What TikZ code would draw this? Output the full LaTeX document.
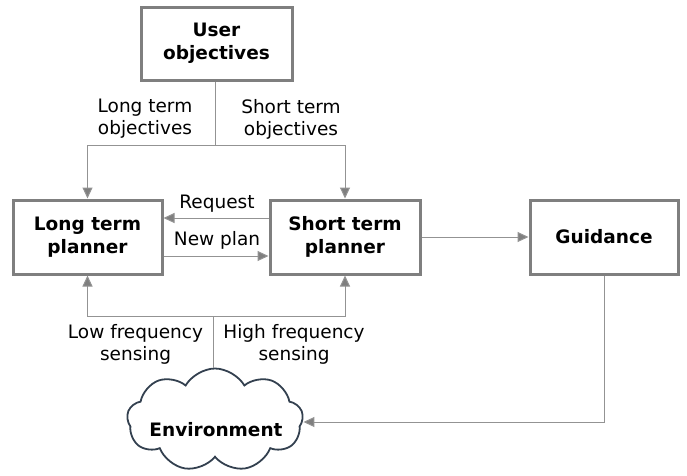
\documentclass[tikz,border=0pt]{standalone}
\usepackage{fontspec}
\setmainfont{DejaVu Sans}
\usetikzlibrary{shapes.symbols,arrows.meta}
\definecolor{boxgray}{HTML}{7F7F7F}
\definecolor{linegray}{HTML}{939393}
\definecolor{cloudline}{HTML}{33404F}
\begin{document}
\begin{tikzpicture}[x=1pt,y=-1pt,
  box/.style={draw=boxgray,line width=3pt,fill=white,inner sep=0pt,font=\fontsize{18.5}{23}\selectfont\bfseries,align=center},
  conn/.style={draw=linegray,line width=1pt},
  arr/.style={conn,-{Triangle[length=11pt,width=10pt,fill=boxgray]}},
  lbl/.style={font=\fontsize{18.5}{22}\selectfont,align=center,inner sep=0pt}]
\useasboundingbox (0,0) rectangle (687,475);
\node[box,minimum width=151pt,minimum height=73pt] (user) at (216.5,43.5) {User\\objectives};
\node[box,minimum width=149pt,minimum height=74pt] (ltp) at (87.5,237) {Long term\\planner};
\node[box,minimum width=150pt,minimum height=74pt] (stp) at (345,237) {Short term\\planner};
\node[box,minimum width=148pt,minimum height=74pt] (gui) at (604,237) {Guidance};
\node[cloud,draw=cloudline,line width=1.8pt,cloud puffs=9,cloud puff arc=120,aspect=1.7,minimum width=176pt,minimum height=103pt,inner sep=0pt] (env) at (215,420) {};
\node[font=\fontsize{18.5}{23}\selectfont\bfseries,inner sep=0pt] (envtxt) at (216,430) {Environment};
\coordinate (top) at (215,145);
\coordinate (bot) at (213,316);
\coordinate (gcorner) at (604,422);
% objectives
\draw[conn] (user.south -| top) -- (top);
\draw[arr] (top) -- (top -| ltp) -- (ltp.north);
\draw[arr] (top) -- (top -| stp) -- (stp.north);
\node[lbl] (lto) at (145,119) {Long term\\objectives};
\node[lbl] (sto) at (291,119) {Short term\\objectives};
% request / new plan
\draw[arr] (stp.west |- 0,218) -- (ltp.east |- 0,218);
\draw[arr] (ltp.east |- 0,256) -- (stp.west |- 0,256);
\node[lbl] (req) at (217,204) {Request};
\node[lbl] (np) at (217,240) {New plan};
% to guidance
\draw[arr] (stp.east) -- (gui.west);
% sensing
\draw[conn] (env.north -| bot) -- (bot);
\draw[arr] (bot) -- (bot -| ltp) -- (ltp.south);
\draw[arr] (bot) -- (bot -| stp) -- (stp.south);
\node[lbl] (lfs) at (135.5,344) {Low frequency\\sensing};
\node[lbl] (hfs) at (294,344) {High frequency\\sensing};
% guidance to environment
\draw[arr] (gui.south) -- (gcorner) -- (env.east |- gcorner);
\end{tikzpicture}
\end{document}
